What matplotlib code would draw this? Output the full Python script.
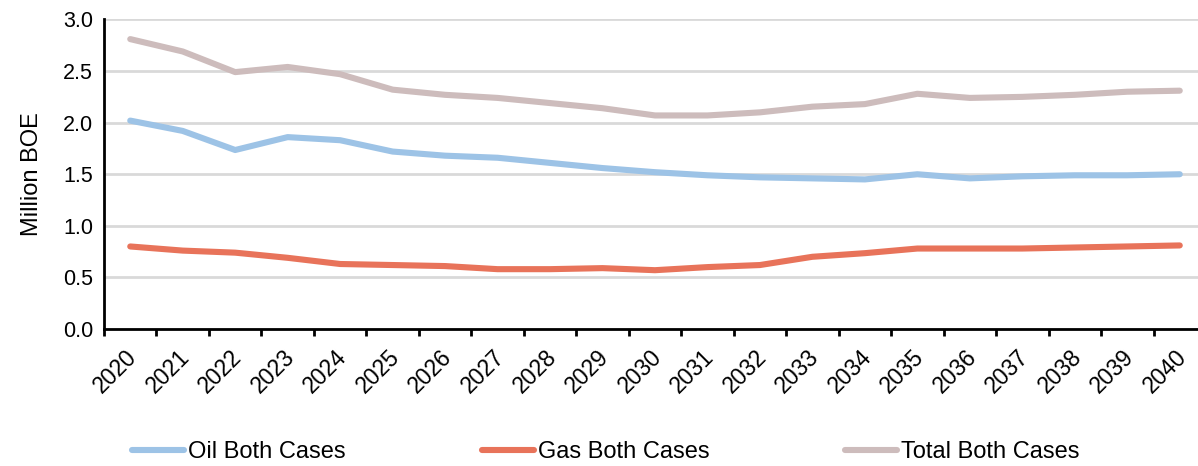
import matplotlib
matplotlib.use("Agg")
import matplotlib.pyplot as plt
import matplotlib.transforms as mtransforms
import numpy as np

plt.rcParams['font.family'] = ['Liberation Sans', 'DejaVu Sans']

years = [str(y) for y in range(2020, 2041)]
oil = [2.02, 1.92, 1.735, 1.86, 1.83, 1.72, 1.68, 1.66, 1.61, 1.56, 1.52,
       1.49, 1.47, 1.46, 1.45, 1.50, 1.46, 1.48, 1.49, 1.49, 1.50]
gas = [0.80, 0.76, 0.74, 0.69, 0.63, 0.62, 0.61, 0.58, 0.58, 0.59, 0.57,
       0.60, 0.62, 0.70, 0.735, 0.78, 0.78, 0.78, 0.79, 0.80, 0.81]
total = [2.81, 2.69, 2.49, 2.54, 2.47, 2.32, 2.27, 2.24, 2.19, 2.14, 2.07,
         2.07, 2.10, 2.155, 2.18, 2.28, 2.24, 2.25, 2.27, 2.30, 2.31]
series_names = ["Oil Both Cases", "Gas Both Cases", "Total Both Cases"]
colors = ["#9DC3E6", "#E8735A", "#CDBCBC"]
y_ticks = [0.0, 0.5, 1.0, 1.5, 2.0, 2.5, 3.0]

W, H = 1198, 466
fig = plt.figure(figsize=(W / 100, H / 100), dpi=100)
ax = fig.add_axes([104 / W, (H - 329) / H, (1206 - 104) / W, (329 - 19.5) / H])

x = np.arange(len(years))
for vals, name, c in zip([oil, gas, total], series_names, colors):
    ax.plot(x, vals, color=c, lw=4.4, solid_capstyle='round',
            solid_joinstyle='round', label=name, zorder=3)

ax.set_xlim(-0.5, len(years) - 0.5)
ax.set_ylim(0, 3.0)
ax.set_yticks(y_ticks)
ax.set_yticklabels([f"{v:.1f}" for v in y_ticks], fontsize=15.5)
ax.yaxis.grid(True, color="#D9D9D9", lw=2, zorder=0)
ax.tick_params(axis='y', length=0, pad=8)

ax.set_xticks(x)
ax.set_xticklabels(years, rotation=45, ha='right', va='top',
                   rotation_mode='anchor', fontsize=16.5)
ax.tick_params(axis='x', which='major', length=0, pad=12)
shift = mtransforms.ScaledTranslation(-5 / 100, 0, fig.dpi_scale_trans)
for lbl in ax.get_xticklabels():
    lbl.set_transform(lbl.get_transform() + shift)
ax.set_xticks(np.arange(-0.5, len(years)), minor=True)
ax.tick_params(axis='x', which='minor', length=5, width=2, direction='out',
               color='black')

for s in ['top', 'right']:
    ax.spines[s].set_visible(False)
for s in ['left', 'bottom']:
    ax.spines[s].set_linewidth(2)
    ax.spines[s].set_color('black')

ax.set_ylabel("Million BOE", fontsize=17, labelpad=14)

fig.legend(loc='center', bbox_to_anchor=(606 / W, 1 - 452 / H), ncol=3,
           frameon=False, fontsize=17, handlelength=2.2, handletextpad=0.17,
           columnspacing=5.76, borderaxespad=0, borderpad=0)

fig.savefig("out.png", dpi=100)
